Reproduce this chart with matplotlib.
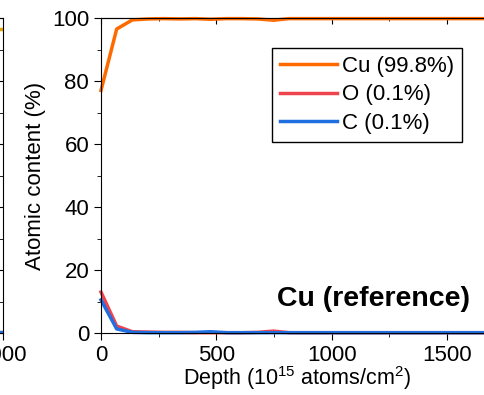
import numpy as np
import matplotlib.pyplot as plt
from matplotlib.ticker import MultipleLocator

plt.rcParams['font.family'] = ['Liberation Sans', 'DejaVu Sans']
plt.rcParams['mathtext.fontset'] = 'custom'
plt.rcParams['mathtext.rm'] = 'Liberation Sans'

# depth profile of the Cu reference (10^15 atoms/cm2)
depth = [0, 68, 136, 204, 272, 340, 408, 476, 544, 612, 680, 748, 816, 884,
         952, 1020, 1088, 1156, 1224, 1292, 1360, 1428, 1496, 1564, 1632, 1700]
cu = [77.0, 96.5, 99.4, 99.7, 99.8, 99.7, 99.8, 99.6, 99.8, 99.8, 99.7, 99.3, 99.8, 99.8,
      99.8, 99.8, 99.8, 99.8, 99.8, 99.8, 99.8, 99.8, 99.8, 99.8, 99.8, 99.8]
oxy = [13.0, 2.2, 0.4, 0.3, 0.2, 0.2, 0.1, 0.1, 0.1, 0.1, 0.2, 0.6, 0.1, 0.1,
       0.1, 0.1, 0.1, 0.1, 0.1, 0.1, 0.1, 0.1, 0.1, 0.1, 0.1, 0.1]
carb = [10.5, 1.3, 0.2, 0.1, 0.1, 0.1, 0.2, 0.4, 0.1, 0.1, 0.1, 0.1, 0.1, 0.1,
        0.1, 0.1, 0.1, 0.1, 0.1, 0.1, 0.1, 0.1, 0.1, 0.1, 0.1, 0.1]
labels = ["Cu (99.8%)", "O (0.1%)", "C (0.1%)"]
colors = ["#FF6A00", "#F0444C", "#1F6FE0"]

# tail end of the neighbouring panel
nb_depth = [1900, 2000]
nb_top = [96.5, 96.5]
nb_bottom = [0.2, 0.2]

FS = 16

W, H = 484, 395
fig = plt.figure(figsize=(W / 100, H / 100), dpi=100)

x0, x1, y0, y1 = 101, 493, 18, 333
ax = fig.add_axes([x0 / W, (H - y1) / H, (x1 - x0) / W, (y1 - y0) / H])

# neighbour panel, only its right edge is inside the picture
nb = fig.add_axes([-320 / W, (H - y1) / H, 323 / W, (y1 - y0) / H])
nb.plot(nb_depth, nb_top, color="#E0A800", lw=2.5)
nb.plot(nb_depth, nb_bottom, color="#1F6FE0", lw=2.5)
nb.set_xlim(0, 2000)
nb.set_ylim(0, 100)
nb.set_xticks([2000])
nb.set_xticklabels(["2000"])
nb.yaxis.set_major_locator(MultipleLocator(20))
nb.yaxis.set_minor_locator(MultipleLocator(10))
nb.tick_params(axis='y', which='both', left=False, right=True, direction='in',
               labelleft=False)
nb.tick_params(axis='y', which='major', length=5)
nb.tick_params(axis='y', which='minor', length=3)
nb.tick_params(axis='x', labelsize=FS, length=5, direction='out')

for vals, lab, col in zip([cu, oxy, carb], labels, colors):
    ax.plot(depth, vals, color=col, lw=2.5, label=lab, clip_on=False)

ax.set_xlim(0, 1700)
ax.set_ylim(0, 100)
ax.spines['right'].set_visible(False)
ax.xaxis.set_major_locator(MultipleLocator(500))
ax.xaxis.set_minor_locator(MultipleLocator(250))
ax.yaxis.set_major_locator(MultipleLocator(20))
ax.yaxis.set_minor_locator(MultipleLocator(10))
ax.tick_params(axis='both', which='major', length=5, labelsize=FS, direction='out')
ax.tick_params(axis='both', which='minor', length=3, direction='out')

top = ax.secondary_xaxis('top')
top.xaxis.set_major_locator(MultipleLocator(500))
top.xaxis.set_minor_locator(MultipleLocator(250))
top.tick_params(axis='x', which='both', direction='in', labeltop=False)
top.tick_params(axis='x', which='major', length=4)
top.tick_params(axis='x', which='minor', length=2)

ax.set_xlabel("Depth (10$^{15}$ atoms/cm$^{2}$)", fontsize=15.5, labelpad=-1)
ax.set_ylabel("Atomic content (%)", fontsize=FS, labelpad=4)

ax.text(1600, 8.5, "Cu (reference)", fontsize=20.5, fontweight='bold',
        ha='right', va='baseline')

leg = ax.legend(loc='upper right', bbox_to_anchor=(0.921, 0.905), borderaxespad=0,
                fontsize=FS, handlelength=2.55, handletextpad=0.25, labelspacing=0.35,
                borderpad=0.35, fancybox=False, framealpha=1)
leg.get_frame().set_edgecolor('black')
leg.get_frame().set_linewidth(1.0)

fig.savefig("out.png", dpi=100)
